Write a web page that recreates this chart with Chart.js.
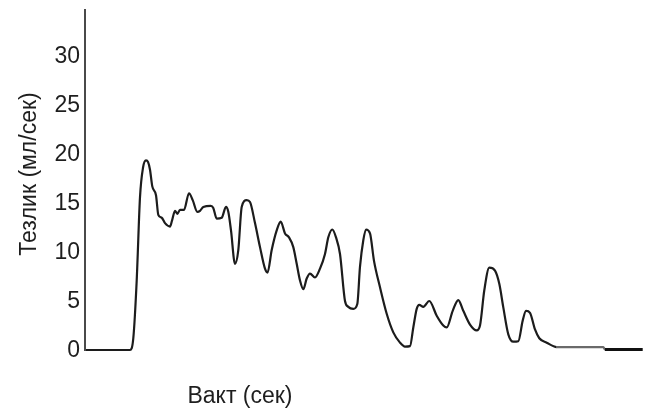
<!DOCTYPE html>
<html>
<head>
<meta charset="utf-8">
<script src="https://cdn.jsdelivr.net/npm/chart.js@4/dist/chart.umd.min.js"></script>
<style>
    html, body { margin: 0; padding: 0; background: #fff; }
    #wrap { width: 648px; height: 410px; position: relative; }
</style>
</head>
<body>
<div id="wrap"><canvas id="flowChart"></canvas></div>
<script>
// Вакт (сек) и тезлик (мл/сек) - урофлоуметрия эгри чизиғи
const times = [
    0.1, 1.5, 4.5, 4.83, 5.17, 5.5, 5.8, 6.1, 6.3, 6.5, 6.73, 7.1, 7.33, 7.67, 8.0, 8.5, 8.7, 9.0,
    9.23, 9.5, 9.9, 10.4, 10.77, 11.23, 11.5, 11.83, 12.57, 12.83, 13.17, 13.67, 14.1, 14.33, 14.6,
    15.0, 15.33, 15.67, 16.17, 16.5, 17.0, 17.5, 18.0, 18.25, 18.67, 19.17, 19.57, 20.0, 20.4, 20.83,
    21.17, 21.5, 21.83, 22.17, 22.5, 23.0, 23.5, 24.0, 24.33, 24.73, 25.1, 25.5, 26.0, 26.33, 26.83,
    27.23, 27.5, 27.83, 28.1, 28.5, 28.9, 29.5, 30.17, 30.83, 31.5, 32.0, 32.5, 32.83, 33.17, 33.43,
    33.83, 34.43, 35.17, 35.83, 36.17, 36.77, 37.33, 37.83, 38.5, 39.17, 39.5, 39.93, 40.43, 41.0,
    41.43, 41.83, 42.33, 42.83, 43.33, 43.77, 44.1, 44.5, 45.0, 45.43, 46.17, 47.17, 51.83, 52.0, 55.77
];
const rates = [
    0, 0, 0, 1.2, 7.1, 15.6, 18.6, 19.35, 19.2, 18.4, 16.7, 15.8, 13.8, 13.5, 12.95, 12.6, 13.2, 14.2,
    13.9, 14.3, 14.3, 16.0, 15.3, 14.1, 14.2, 14.6, 14.7, 14.5, 13.4, 13.5, 14.6, 14.1, 12.2,
    8.8, 10.2, 14.6, 15.3, 15.1, 12.95, 10.5, 8.3, 7.9, 10.2, 12.2, 13.1, 11.9, 11.5, 10.5,
    8.8, 7.1, 6.2, 7.3, 7.8, 7.4, 8.3, 9.8, 11.5, 12.3, 11.5, 9.8, 5.0, 4.4, 4.2,
    4.7, 8.5, 11.2, 12.3, 11.9, 9.1, 6.4, 3.7, 1.8, 0.75, 0.35, 0.4, 2.3, 4.2, 4.6,
    4.4, 5.0, 3.5, 2.5, 2.3, 4.0, 5.1, 4.0, 2.6, 2.0, 2.5, 6.1, 8.4, 8.1,
    6.75, 4.35, 1.6, 0.85, 0.9, 3.0, 4.0, 3.8, 2.1, 1.2, 0.75, 0.3, 0.3, 0.05, 0.05
];
const yTicks = [0, 5, 10, 15, 20, 25, 30];
const yTitle = 'Тезлик (мл/сек)';
const xTitle = 'Вакт (сек)';

const FONT = '"Liberation Sans", Arial, sans-serif';
const TEXT_COLOR = '#1e1e1e';

// ўқ номлари - аниқ жойлашув учун қўлда чизилади
const axisTitles = {
    id: 'axisTitles',
    afterDraw(chart) {
        const ctx = chart.ctx;
        const area = chart.chartArea;
        ctx.save();
        ctx.fillStyle = TEXT_COLOR;
        ctx.font = '23px ' + FONT;
        ctx.textAlign = 'center';
        ctx.textBaseline = 'alphabetic';
        ctx.fillText(xTitle, area.left + 155, 403);

        ctx.translate(36, 174);
        ctx.rotate(-Math.PI / 2);
        ctx.fillText(yTitle, 0, 0);
        ctx.restore();
    }
};

const points = times.map((t, i) => ({ x: t, y: rates[i] }));

// охирги қисмлар: кулранг ингичка, сўнг қора қалин чизиқ
const tailColor = c => {
    if (c.p0.parsed.x >= 52) return '#111';
    if (c.p0.parsed.x >= 47) return '#6a6a6a';
    return undefined;
};
const tailWidth = c => (c.p0.parsed.x >= 52 ? 2.8 : undefined);

new Chart(document.getElementById('flowChart'), {
    type: 'line',
    data: {
        datasets: [{
            data: points,
            borderColor: '#1c1c1c',
            borderWidth: 2.2,
            pointRadius: 0,
            fill: false,
            cubicInterpolationMode: 'monotone',
            clip: false,
            segment: {
                borderColor: tailColor,
                borderWidth: tailWidth
            }
        }]
    },
    options: {
        responsive: true,
        maintainAspectRatio: false,
        animation: false,
        layout: { padding: { top: 10, bottom: 60, left: 0, right: 3 } },
        plugins: {
            legend: { display: false },
            tooltip: { enabled: false }
        },
        scales: {
            x: {
                type: 'linear',
                min: 0,
                max: 56,
                display: false
            },
            y: {
                min: 0,
                max: 34.7,
                afterFit(scale) {
                    scale.width = 85;
                    // ярим ёзув баландлиги учун қўшимча жой керак эмас
                    scale.paddingTop = 0;
                    scale.paddingBottom = 0;
                },
                afterBuildTicks(scale) {
                    scale.ticks = yTicks.map(v => ({ value: v }));
                },
                grid: { display: false, drawTicks: false },
                border: { display: true, color: '#4a4a4a', width: 2 },
                ticks: {
                    padding: 5,
                    labelOffset: 1,
                    color: TEXT_COLOR,
                    font: { family: FONT, size: 23 }
                }
            }
        }
    },
    plugins: [axisTitles]
});
</script>
</body>
</html>
